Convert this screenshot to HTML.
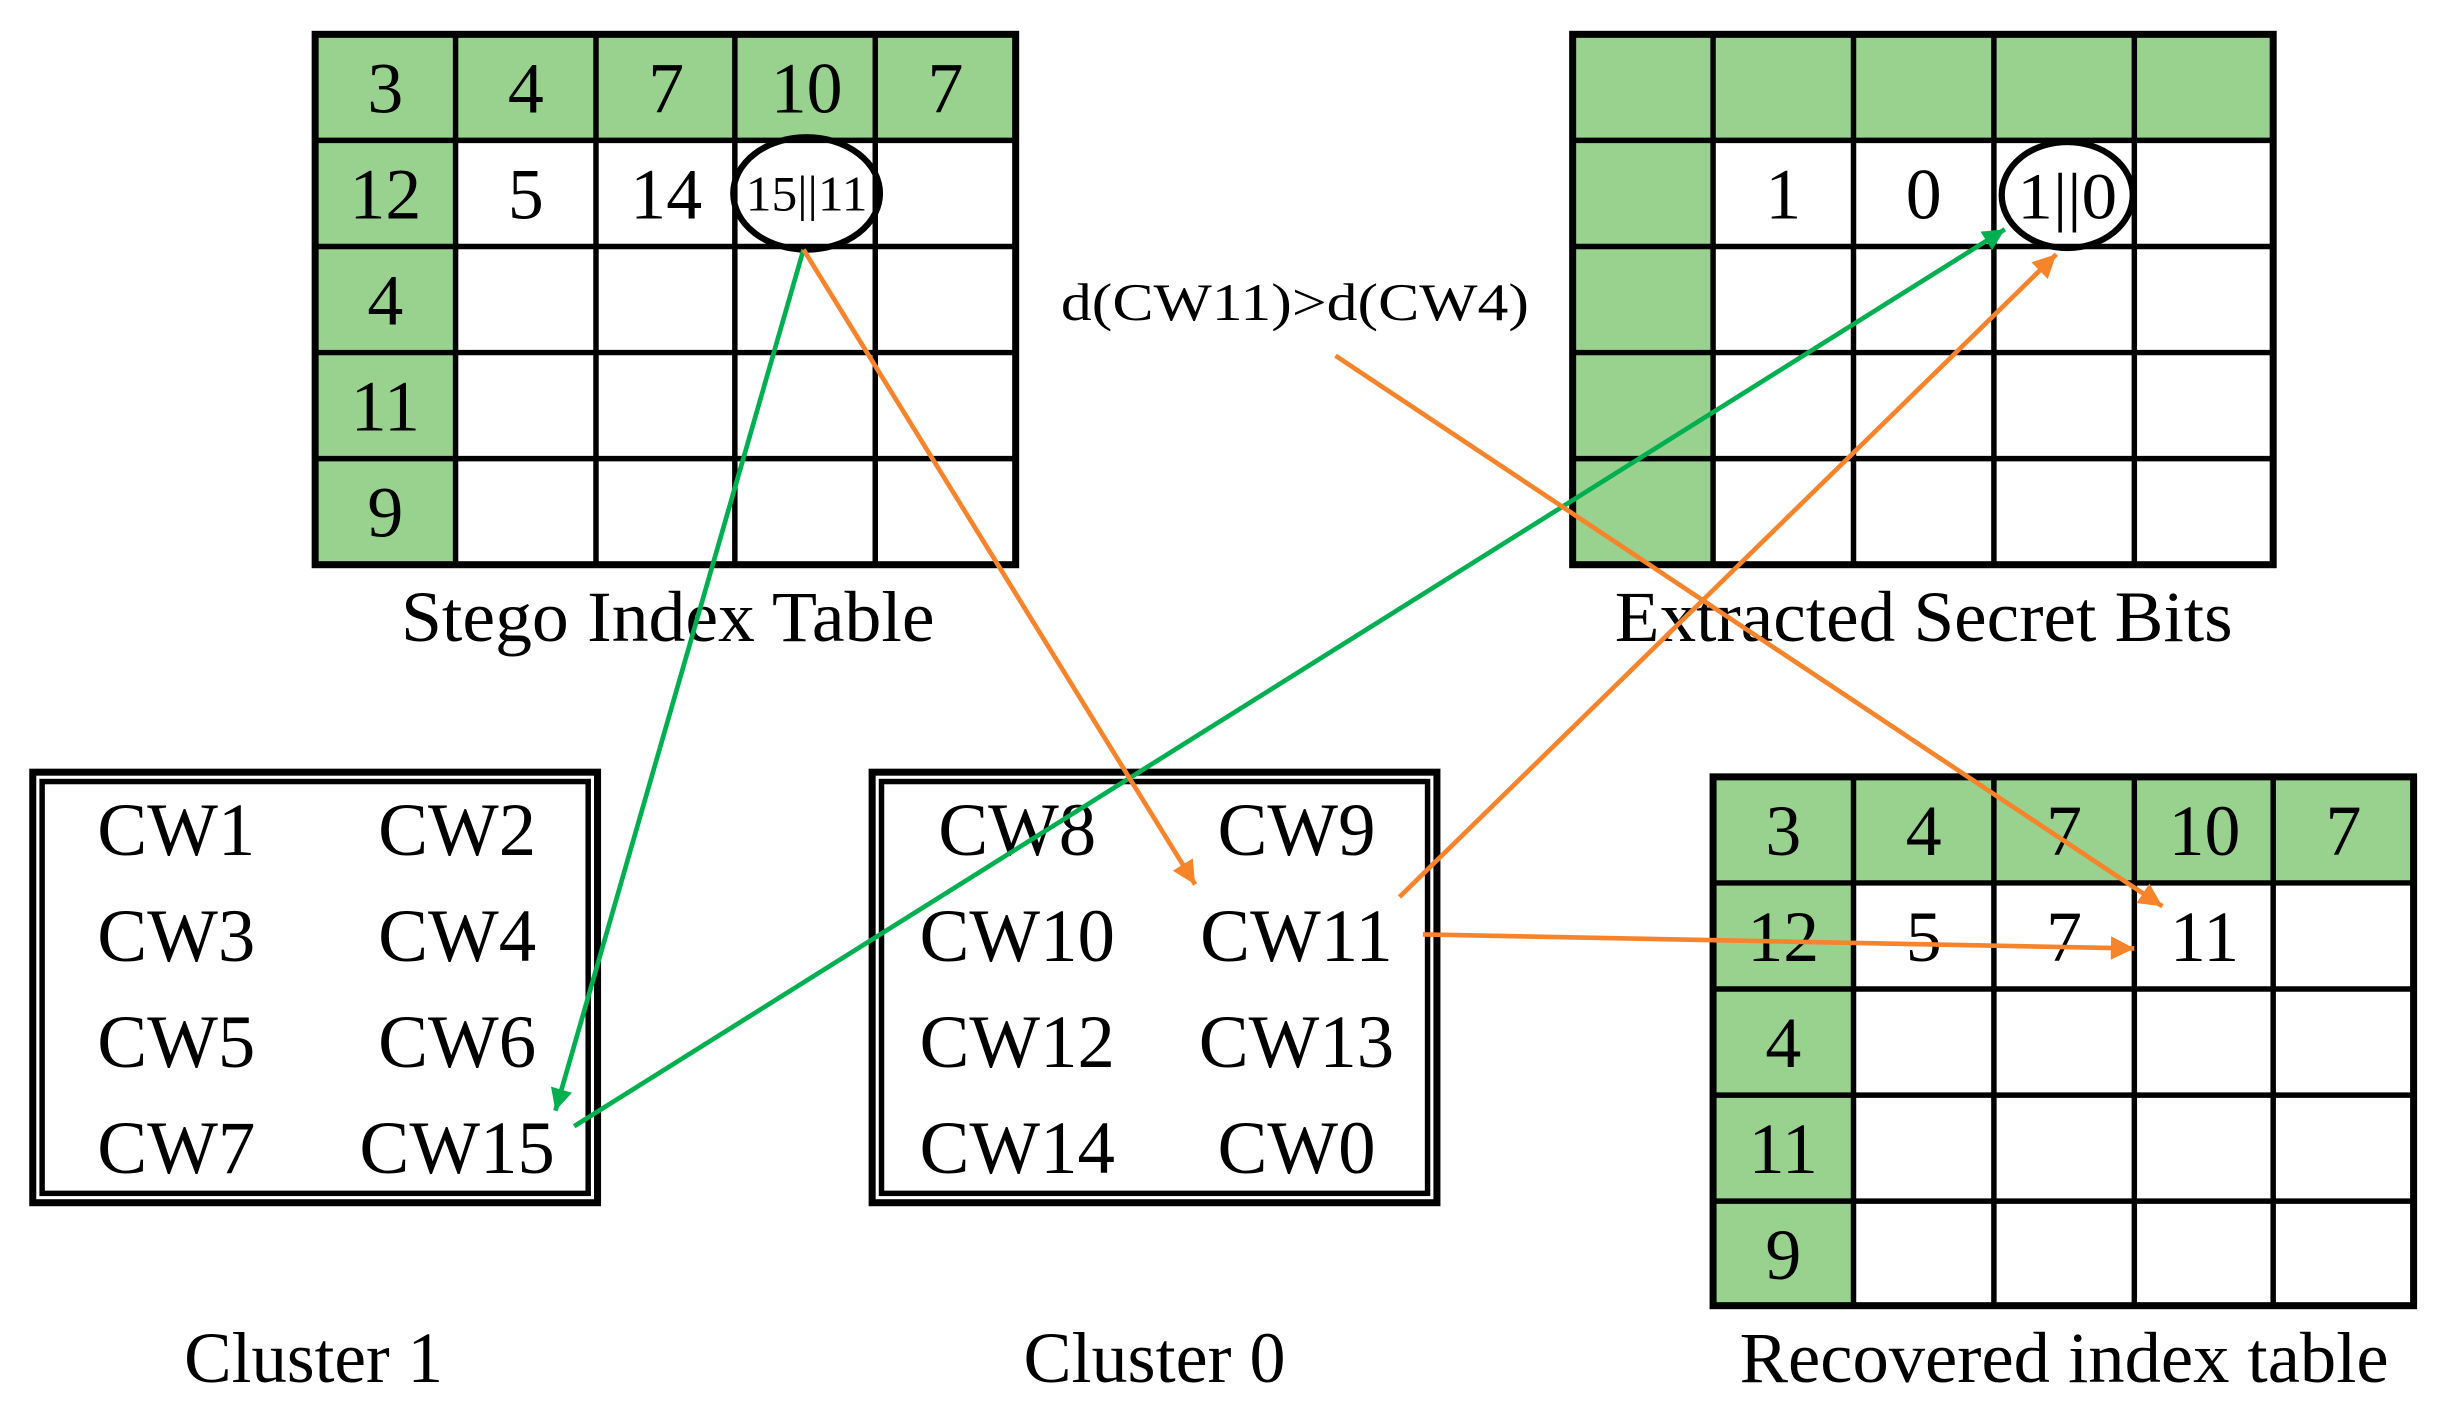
<!DOCTYPE html>
<html><head><meta charset="utf-8"><style>html,body{margin:0;padding:0;background:#fff}svg{display:block}</style></head>
<body>
<svg width="2437" height="1418" viewBox="0 0 1562 909" preserveAspectRatio="none" xmlns="http://www.w3.org/2000/svg" font-family="Liberation Serif, serif">
<defs>
<marker id="ag" viewBox="0 0 10 10" refX="10" refY="5" markerWidth="22" markerHeight="14" markerUnits="userSpaceOnUse" orient="auto"><path d="M0,0 L10,5 L0,10 z" fill="#00b050"/></marker>
<marker id="ao" viewBox="0 0 10 10" refX="10" refY="5" markerWidth="22" markerHeight="15" markerUnits="userSpaceOnUse" orient="auto"><path d="M0,0 L10,5 L0,10 z" fill="#f7832a"/></marker>
</defs>
<rect x="202" y="22" width="449" height="68" fill="#99d18f"/>
<rect x="202" y="22" width="90" height="340" fill="#99d18f"/>
<g stroke="#000" stroke-width="3.5" fill="none">
<rect x="202" y="22" width="449" height="340" stroke-width="4.5"/>
<path d="M292 22V362M382 22V362M471 22V362M561 22V362M202 90H651M202 158H651M202 226H651M202 294H651"/>
</g>
<g font-size="46" text-anchor="middle">
<text x="247" y="72">3</text><text x="337" y="72">4</text><text x="427" y="72">7</text><text x="517" y="72">10</text><text x="606" y="72">7</text>
<text x="247" y="140">12</text><text x="337" y="140">5</text><text x="427" y="140">14</text>
<text x="247" y="208">4</text><text x="247" y="276">11</text><text x="247" y="344">9</text>
<text x="517" y="135" font-size="32" textLength="78" lengthAdjust="spacingAndGlyphs">15||11</text>
</g>
<ellipse cx="517" cy="124" rx="47" ry="36" fill="none" stroke="#000" stroke-width="4"/>
<text x="428" y="411" font-size="46" text-anchor="middle" textLength="342" lengthAdjust="spacingAndGlyphs">Stego Index Table</text>

<rect x="1008" y="22" width="449" height="68" fill="#99d18f"/>
<rect x="1008" y="22" width="90" height="340" fill="#99d18f"/>
<g stroke="#000" stroke-width="3.5" fill="none">
<rect x="1008" y="22" width="449" height="340" stroke-width="4.5"/>
<path d="M1098 22V362M1188 22V362M1278 22V362M1368 22V362M1008 90H1457M1008 158H1457M1008 226H1457M1008 294H1457"/>
</g>
<g font-size="46" text-anchor="middle">
<text x="1143" y="140">1</text><text x="1233" y="140">0</text><text x="1325" y="140" font-size="42" textLength="64" lengthAdjust="spacingAndGlyphs">1||0</text>
</g>
<ellipse cx="1325" cy="125" rx="42" ry="34" fill="none" stroke="#000" stroke-width="4"/>
<text x="1233" y="411" font-size="46" text-anchor="middle" textLength="396" lengthAdjust="spacingAndGlyphs">Extracted Secret Bits</text>

<rect x="1098" y="498" width="449" height="68" fill="#99d18f"/>
<rect x="1098" y="498" width="90" height="339" fill="#99d18f"/>
<g stroke="#000" stroke-width="3.5" fill="none">
<rect x="1098" y="498" width="449" height="339" stroke-width="4.5"/>
<path d="M1188 498V837M1278 498V837M1368 498V837M1457 498V837M1098 566H1547M1098 634H1547M1098 702H1547M1098 770H1547"/>
</g>
<g font-size="46" text-anchor="middle">
<text x="1143" y="548">3</text><text x="1233" y="548">4</text><text x="1323" y="548">7</text><text x="1413" y="548">10</text><text x="1502" y="548">7</text>
<text x="1143" y="616">12</text><text x="1233" y="616">5</text><text x="1323" y="616">7</text><text x="1413" y="616">11</text>
<text x="1143" y="684">4</text><text x="1143" y="752">11</text><text x="1143" y="820">9</text>
</g>
<text x="1323" y="886" font-size="46" text-anchor="middle" textLength="416" lengthAdjust="spacingAndGlyphs">Recovered index table</text>

<g fill="none" stroke="#000">
<rect x="21" y="495" width="362" height="276" stroke-width="4.5"/>
<rect x="27" y="501" width="350" height="264" stroke-width="3.5"/>
<rect x="559" y="495" width="362" height="276" stroke-width="4.5"/>
<rect x="565" y="501" width="350" height="264" stroke-width="3.5"/>
</g>
<g font-size="48" text-anchor="middle">
<text x="113" y="548">CW1</text><text x="293" y="548">CW2</text>
<text x="113" y="616">CW3</text><text x="293" y="616">CW4</text>
<text x="113" y="684">CW5</text><text x="293" y="684">CW6</text>
<text x="113" y="752">CW7</text><text x="293" y="752">CW15</text>
<text x="652" y="548">CW8</text><text x="831" y="548">CW9</text>
<text x="652" y="616">CW10</text><text x="831" y="616">CW11</text>
<text x="652" y="684">CW12</text><text x="831" y="684">CW13</text>
<text x="652" y="752">CW14</text><text x="831" y="752">CW0</text>
<text x="201" y="886" font-size="46" textLength="166" lengthAdjust="spacingAndGlyphs">Cluster 1</text>
<text x="740" y="886" font-size="46" textLength="168" lengthAdjust="spacingAndGlyphs">Cluster 0</text>
</g>
<text x="830" y="205" font-size="34" text-anchor="middle" textLength="300" lengthAdjust="spacingAndGlyphs">d(CW11)&gt;d(CW4)</text>

<g stroke-width="3" fill="none">
<line x1="515" y1="160" x2="356" y2="712" stroke="#00b050" marker-end="url(#ag)"/>
<line x1="368" y1="722" x2="1285" y2="147" stroke="#00b050" marker-end="url(#ag)"/>
<line x1="515" y1="160" x2="766" y2="567" stroke="#f7832a" marker-end="url(#ao)"/>
<line x1="897" y1="575" x2="1318" y2="163" stroke="#f7832a" marker-end="url(#ao)"/>
<line x1="856" y1="228" x2="1386" y2="581" stroke="#f7832a" marker-end="url(#ao)"/>
<line x1="912" y1="599" x2="1368" y2="608" stroke="#f7832a" marker-end="url(#ao)"/>
</g>
</svg>
</body></html>
